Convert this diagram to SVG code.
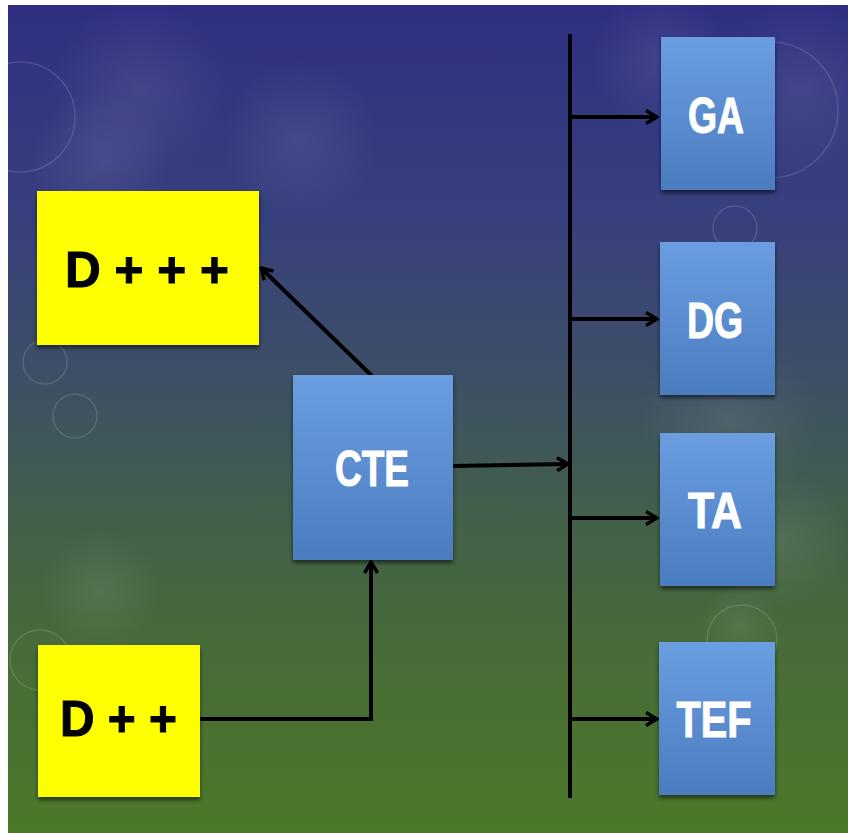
<svg xmlns="http://www.w3.org/2000/svg" width="848" height="833" viewBox="0 0 848 833">
  <defs>
    <linearGradient id="bg" x1="0" y1="0" x2="0" y2="1">
      <stop offset="0" stop-color="#2e2f82"/>
      <stop offset="0.25" stop-color="#383f7e"/>
      <stop offset="0.45" stop-color="#3d4f66"/>
      <stop offset="0.62" stop-color="#42604a"/>
      <stop offset="0.8" stop-color="#486d36"/>
      <stop offset="1" stop-color="#4c7829"/>
    </linearGradient>
    <radialGradient id="glow" cx="0.5" cy="0.5" r="0.5">
      <stop offset="0" stop-color="#ffffff" stop-opacity="0.08"/>
      <stop offset="1" stop-color="#ffffff" stop-opacity="0"/>
    </radialGradient>
    <linearGradient id="blueBox" x1="0" y1="0" x2="0" y2="1">
      <stop offset="0" stop-color="#6a9ee0"/>
      <stop offset="1" stop-color="#4b7cc0"/>
    </linearGradient>
    <filter id="shadow" x="-10%" y="-10%" width="120%" height="125%">
      <feDropShadow dx="0" dy="3" stdDeviation="2" flood-color="#000" flood-opacity="0.55"/>
    </filter>
    <marker id="arrow" viewBox="0 0 16 16" refX="14" refY="8" markerWidth="16" markerHeight="16" markerUnits="userSpaceOnUse" orient="auto">
      <path d="M3,1.5 L14,8 L3,14.5" fill="none" stroke="#000" stroke-width="3.5" stroke-linejoin="miter"/>
    </marker>
    <style>
      .blue { fill: url(#blueBox); filter: url(#shadow); }
      .yellow { fill: #ffff00; filter: url(#shadow); }
      .wlabel { font-family: "Liberation Sans", Arial, sans-serif; font-weight: bold; font-size: 50px; fill: #ffffff; stroke: #ffffff; stroke-width: 1; text-anchor: middle; }
      .blabel { font-family: "Liberation Sans", Arial, sans-serif; font-weight: bold; font-size: 50px; fill: #000000; stroke: #000000; stroke-width: 1; }
      .conn { fill: none; stroke: #000; stroke-width: 4; }
      .ring { fill: none; stroke: #ffffff; stroke-opacity: 0.13; stroke-width: 1.5; }
      .blob { fill: url(#glow); }
    </style>
  </defs>

  <!-- backdrop -->
  <rect x="0" y="0" width="848" height="833" fill="#ffffff"/>
  <rect x="8" y="5" width="840" height="828" fill="url(#bg)"/>
  <g id="bokeh">
    <circle class="blob" cx="140" cy="90" r="90"/>
    <circle class="blob" cx="100" cy="160" r="70"/>
    <circle class="blob" cx="300" cy="140" r="80"/>
    <circle class="blob" cx="800" cy="90" r="90"/>
    <circle class="blob" cx="660" cy="60" r="70"/>
    <circle class="blob" cx="730" cy="420" r="90"/>
    <circle class="blob" cx="100" cy="590" r="60"/>
    <circle class="blob" cx="780" cy="540" r="70"/>
    <circle class="blob" cx="740" cy="625" r="40"/>
    <circle class="ring" cx="20" cy="117" r="55"/>
    <circle class="ring" cx="770" cy="110" r="68"/>
    <circle class="ring" cx="735" cy="228" r="22"/>
    <circle class="ring" cx="45" cy="362" r="22"/>
    <circle class="ring" cx="75" cy="416" r="22"/>
    <circle class="ring" cx="742" cy="640" r="35"/>
    <circle class="ring" cx="40" cy="660" r="30"/>
  </g>

  <!-- connectors -->
  <g id="connectors">
    <line class="conn" x1="570" y1="34" x2="570" y2="798"/>
    <line class="conn" x1="570" y1="117" x2="657" y2="117" marker-end="url(#arrow)"/>
    <line class="conn" x1="570" y1="319" x2="657" y2="319" marker-end="url(#arrow)"/>
    <line class="conn" x1="570" y1="518" x2="657" y2="518" marker-end="url(#arrow)"/>
    <line class="conn" x1="570" y1="719" x2="657" y2="719" marker-end="url(#arrow)"/>
    <line class="conn" x1="453" y1="466" x2="568" y2="464" marker-end="url(#arrow)"/>
    <line class="conn" x1="372" y1="376" x2="261" y2="268" marker-end="url(#arrow)"/>
    <polyline class="conn" points="200,719 371,719 371,562" marker-end="url(#arrow)"/>
  </g>

  <!-- nodes -->
  <g id="node-dppp">
    <rect class="yellow" x="37" y="191" width="222" height="154"/>
    <text class="blabel" x="65" y="287" textLength="164" lengthAdjust="spacingAndGlyphs">D + + +</text>
  </g>
  <g id="node-dpp">
    <rect class="yellow" x="38" y="645" width="162" height="152"/>
    <text class="blabel" x="60" y="736" textLength="117" lengthAdjust="spacingAndGlyphs">D + +</text>
  </g>
  <g id="node-cte">
    <rect class="blue" x="293" y="375" width="160" height="185"/>
    <text class="wlabel" x="372" y="486" textLength="74" lengthAdjust="spacingAndGlyphs">CTE</text>
  </g>
  <g id="node-ga">
    <rect class="blue" x="661" y="37" width="114" height="153"/>
    <text class="wlabel" x="716" y="133" textLength="56" lengthAdjust="spacingAndGlyphs">GA</text>
  </g>
  <g id="node-dg">
    <rect class="blue" x="660" y="242" width="115" height="153"/>
    <text class="wlabel" x="715" y="338" textLength="56" lengthAdjust="spacingAndGlyphs">DG</text>
  </g>
  <g id="node-ta">
    <rect class="blue" x="660" y="433" width="115" height="153"/>
    <text class="wlabel" x="715" y="528" textLength="54" lengthAdjust="spacingAndGlyphs">TA</text>
  </g>
  <g id="node-tef">
    <rect class="blue" x="659" y="642" width="116" height="153"/>
    <text class="wlabel" x="714" y="737" textLength="75" lengthAdjust="spacingAndGlyphs">TEF</text>
  </g>
</svg>
